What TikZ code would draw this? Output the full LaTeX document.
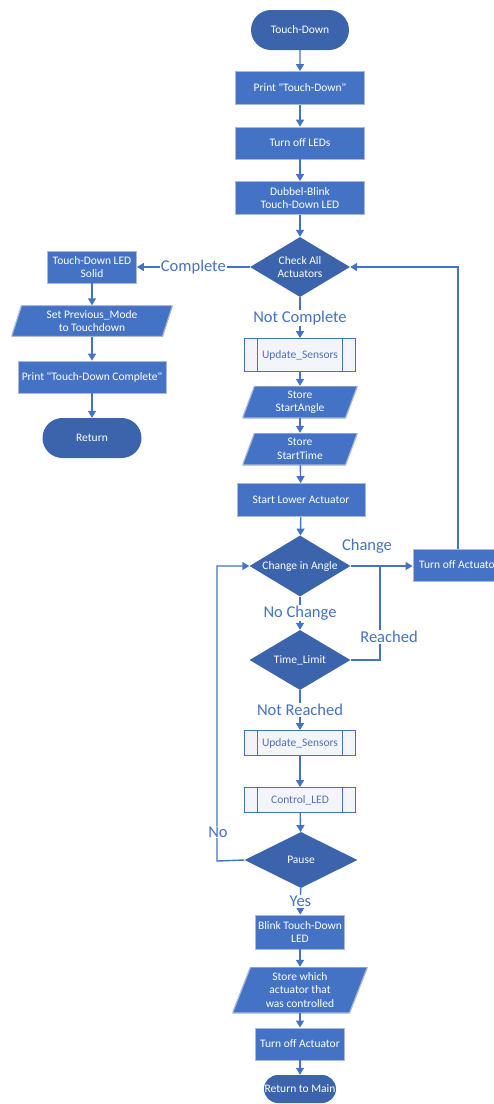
\documentclass[tikz,border=0pt]{standalone}
\usepackage{fontspec}
\setmainfont{Carlito}
\usetikzlibrary{shapes.geometric,shapes.misc,arrows.meta}

\definecolor{procfill}{HTML}{4472C4}
\definecolor{procedge}{HTML}{A8B9DC}
\definecolor{darkfill}{HTML}{3C64AC}
\definecolor{flow}{HTML}{4472C4}
\definecolor{subfill}{HTML}{F3F5FB}
\definecolor{subtext}{HTML}{4D70BB}

\tikzset{
  base/.style={text=white, align=center, inner sep=1pt,
    font=\fontsize{11.5}{13.5}\selectfont},
  proc/.style={base, rectangle, fill=procfill, draw=procedge, line width=0.8pt},
  term/.style={base, rounded rectangle, fill=darkfill, draw=none},
  decide/.style={base, diamond, fill=darkfill, draw=none, inner sep=0pt, aspect=1.7},
  subproc/.style={base, rectangle, fill=subfill, draw=flow, line width=0.8pt,
    text=subtext,
    path picture={
      \draw[flow, line width=0.8pt]
        ([xshift=13pt]path picture bounding box.north west) --
        ([xshift=13pt]path picture bounding box.south west)
        ([xshift=-13pt]path picture bounding box.north east) --
        ([xshift=-13pt]path picture bounding box.south east);}},
  io/.style={base, rectangle, draw=none,
    path picture={
      \fill[procfill, draw=procedge, line width=1.2pt]
        (path picture bounding box.south west) --
        ([xshift=-#1]path picture bounding box.south east) --
        (path picture bounding box.north east) --
        ([xshift=#1]path picture bounding box.north west) -- cycle;}},
  io/.default=12pt,
  link/.style={draw=flow, line width=1.4pt},
  arrow/.style={link, -{Triangle[length=7pt,width=8pt]}},
  tag/.style={text=flow, fill=white, inner sep=1pt,
    font=\fontsize{16.5}{19}\selectfont},
}

\begin{document}
\begin{tikzpicture}[x=1pt,y=-1pt]
\useasboundingbox (0,0) rectangle (494,1104);
\clip (0,0) rectangle (494,1104);

% main column, start
\node[term, minimum width=100pt, minimum height=40pt] (start) at (300,30) {Touch-Down};
\node[proc, minimum width=129pt, minimum height=33pt] (print) at (300,88) {Print \textquotedbl Touch-Down\textquotedbl};
\node[proc, minimum width=129pt, minimum height=32pt] (ledoff) at (300,143) {Turn off LEDs};
\node[proc, minimum width=129pt, minimum height=33pt] (dblink) at (300,198) {Dubbel-Blink\\Touch-Down LED};
\node[decide, minimum width=100pt, minimum height=60pt] (check) at (300,267) {Check All\\Actuators};

% completion branch on the left
\node[proc, minimum width=89pt, minimum height=32pt] (solid) at (92,267) {Touch-Down LED\\Solid};
\node[io=10pt, minimum width=161pt, minimum height=31pt] (prevmode) at (92,321) {Set Previous\_Mode\\to Touchdown};
\node[proc, minimum width=148pt, minimum height=32pt] (printdone) at (92,377) {Print \textquotedbl Touch-Down Complete\textquotedbl};
\node[term, minimum width=101pt, minimum height=40pt] (ret) at (92,438) {Return};

% actuator test
\node[subproc, minimum width=111pt, minimum height=33pt] (upd1) at (300,355) {Update\_Sensors};
\node[io, minimum width=115pt, minimum height=32pt] (angle) at (300,402) {Store\\StartAngle};
\node[io, minimum width=115pt, minimum height=32pt] (time) at (300,449) {Store\\StartTime};
\node[proc, minimum width=128pt, minimum height=33pt] (lower) at (301,500) {Start Lower Actuator};
\node[decide, minimum width=101pt, minimum height=61pt] (chg) at (300,566) {Change in Angle};
\node[proc, minimum width=92pt, minimum height=32pt] (offR) at (459,565) {Turn off Actuator};
\node[decide, minimum width=101pt, minimum height=60pt] (limit) at (300,660) {Time\_Limit};
\node[subproc, minimum width=111pt, minimum height=25pt] (upd2) at (300,743) {Update\_Sensors};
\node[subproc, minimum width=111pt, minimum height=25pt] (ctl) at (300,800) {Control\_LED};
\node[decide, minimum width=113pt, minimum height=56pt, aspect=2] (pause) at (301,860) {Pause};

% pause branch
\node[proc, minimum width=89pt, minimum height=34pt] (blink) at (300,932) {Blink Touch-Down\\LED};
\node[io=18pt, minimum width=135pt, minimum height=46pt] (which) at (300,990) {Store which\\actuator that\\was controlled};
\node[proc, minimum width=89pt, minimum height=32pt] (off) at (300,1044) {Turn off Actuator};
\node[term, minimum width=74pt, minimum height=28pt] (main) at (300,1089) {Return to Main};

% helper points for the loops
\coordinate (jr) at (380,566);
\coordinate (loopR) at (458,267);
\coordinate (loopL) at (217,861);

% straight connectors
\draw[arrow] (start) -- (print);
\draw[arrow] (print) -- (ledoff);
\draw[arrow] (ledoff) -- (dblink);
\draw[arrow] (dblink) -- (check);
\draw[arrow] (check) -- node[tag] {Complete} (solid);
\draw[arrow] (solid) -- (prevmode);
\draw[arrow] (prevmode) -- (printdone);
\draw[arrow] (printdone) -- (ret);
\draw[arrow] (check) -- node[tag] {Not Complete} (upd1);
\draw[arrow] (upd1) -- (angle);
\draw[arrow] (angle) -- (time);
\draw[arrow] (time) -- (lower);
\draw[arrow] (lower) -- (chg);
\draw[arrow] (chg.east) -- (chg.east -| offR.west);
\draw[arrow] (chg) -- node[tag] {No Change} (limit);
\draw[link] (limit.east) -| (jr);
\draw[arrow] (limit) -- node[tag] {Not Reached} (upd2);
\draw[arrow] (upd2) -- (ctl);
\draw[arrow] (ctl) -- (pause);
\draw[arrow] (pause) -- node[tag] {Yes} (blink);
\draw[arrow] (blink) -- (which);
\draw[arrow] (which) -- (off);
\draw[arrow] (off) -- (main);

% loops back
\draw[arrow] (offR.north -| loopR) -- (loopR) -- (check.east);
\draw[arrow] (pause.west) -- (loopL) |- (chg.west);

% branch labels
\node[tag, fill=none] (lchange) at (367,546) {Change};
\node[tag] (lreached) at (389,637) {Reached};
\node[tag] (lno) at (218,832) {No};
\end{tikzpicture}
\end{document}
